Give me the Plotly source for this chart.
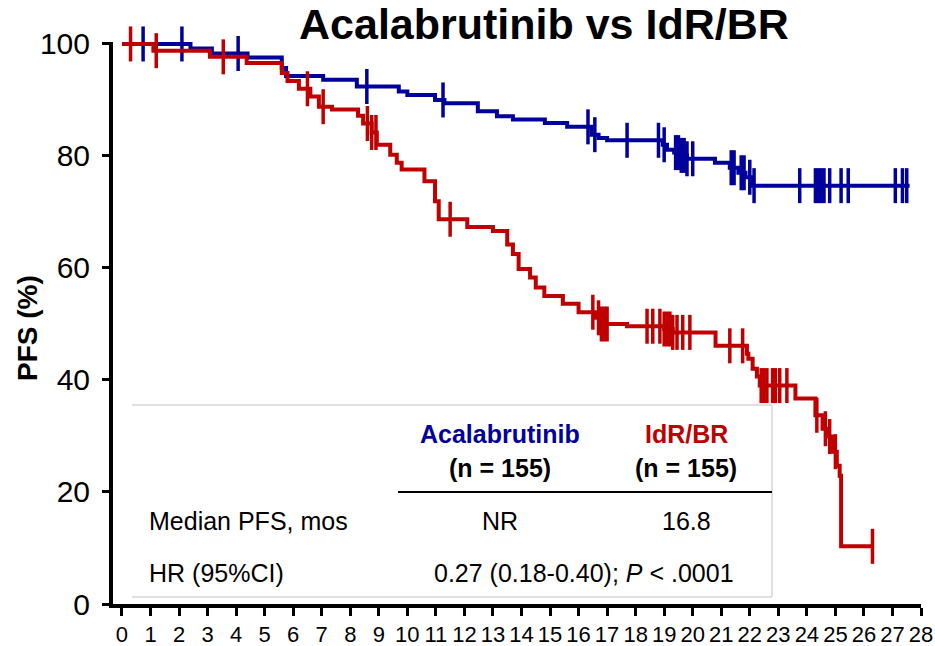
import numpy as np
import plotly.graph_objects as go

# ---------------- data ----------------
x_ticks = list(range(0, 29))
y_ticks = [0, 20, 40, 60, 80, 100]

acala_t = [0, 2.4, 3.15, 4.4, 5.6, 5.75, 7.05, 8.23, 9.7, 10.0, 10.97, 11.3, 12.47, 13.14, 13.7,
           14.82, 15.6, 16.45, 16.7, 17.0, 18.95, 19.1, 19.35, 19.6, 19.8, 20.78, 21.3, 21.6, 21.85,
           22.1, 27.6]
acala_s = [100, 99.2, 98.3, 97.6, 95.7, 94.3, 93.6, 92.4, 91.5, 90.9, 90.0, 89.4, 88.0, 87.1, 86.5,
           85.9, 85.2, 83.8, 83.2, 82.8, 82.0, 81.1, 80.6, 80.1, 79.5, 78.8, 77.9, 77.0, 76.2,
           74.7, 74.7]
acala_cens = [0.74, 2.1, 4.07, 8.58, 11.25, 16.33, 16.57, 17.7, 18.8, 19.0, 19.4, 19.5, 19.6, 19.7,
              19.8, 20.0, 21.35, 21.45, 21.7, 21.8, 22.0, 22.15, 23.75, 24.3, 24.4, 24.5, 24.6, 24.8,
              25.2, 25.45, 27.1, 27.35, 27.5]

idr_t = [0, 1.1, 3.08, 4.37, 5.6, 5.8, 6.2, 6.6, 6.9, 7.36, 8.27, 8.45, 8.75, 8.93, 9.4, 9.63, 9.8,
         10.6, 10.97, 11.1, 12.1, 13.0, 13.5, 13.7, 13.9, 14.3, 14.5, 14.8, 15.45, 16.0, 16.6, 16.8,
         17.7, 19.0, 19.3, 20.8, 21.9, 21.95, 22.1, 22.25, 22.35, 23.6, 24.3, 24.55, 24.75, 24.9,
         25.05, 25.15, 25.2, 26.3]
idr_s = [100, 98.8, 97.7, 96.6, 94.8, 93.4, 92.0, 90.6, 88.8, 88.3, 87.2, 85.8, 84.2, 82.0, 80.2,
         78.8, 77.6, 75.5, 71.9, 68.7, 67.3, 66.6, 64.2, 62.5, 59.8, 58.3, 56.5, 55.0, 53.6, 52.1,
         51.1, 50.0, 49.6, 49.1, 48.5, 46.1, 44.7, 43.8, 42.0, 40.6, 39.0, 36.7, 33.7, 31.3, 29.9,
         27.2, 24.7, 22.9, 10.3, 10.3]
idr_cens = [0.3, 1.2, 3.55, 6.5, 7.05, 8.6, 8.75, 8.9, 11.5, 16.5, 16.7, 16.8, 16.9, 17.0, 18.4,
            18.6, 18.85, 19.0, 19.1, 19.2, 19.3, 19.45, 19.65, 19.9, 21.3, 21.75, 22.4, 22.5, 22.6,
            22.8, 22.9, 23.05, 23.3, 24.35, 24.65, 24.8, 25.0, 26.3]

series_names = ["Acalabrutinib", "IdR/BR"]
n_labels = ["(n = 155)", "(n = 155)"]
median_pfs = ["NR", "16.8"]
hr_text = "0.27 (0.18-0.40); <i>P</i> < .0001"

BLUE = "#00009C"
RED = "#C00000"
FONT = "Liberation Sans, Arial, sans-serif"

# ---------------- layout geometry ----------------
W, H = 935, 646
L, R, T, B = 113, 14, 35, 42


def px(x):
    return (x - L) / (W - L - R)


def py(y):
    return (H - B - y) / (H - T - B)


def s_at(ts, ss, cens):
    idx = np.searchsorted(np.array(ts), np.array(cens), side="right") - 1
    return list(np.array(ss)[idx])


fig = go.Figure()
for ts, ss, cens, col, nm in [(acala_t, acala_s, acala_cens, BLUE, series_names[0]),
                              (idr_t, idr_s, idr_cens, RED, series_names[1])]:
    fig.add_trace(go.Scatter(x=ts, y=ss, mode="lines", name=nm,
                             line=dict(shape="hv", width=4, color=col), showlegend=False))
    fig.add_trace(go.Scatter(x=cens, y=s_at(ts, ss, cens), mode="markers", showlegend=False,
                             marker=dict(symbol="line-ns", size=25, color=col,
                                         line=dict(width=3.5, color=col)),
                             cliponaxis=False))

fig.update_xaxes(range=[-0.315, 28.0], tickvals=x_ticks, ticktext=[str(v) for v in x_ticks],
                 ticks="outside", ticklen=8, tickwidth=3, tickcolor="black",
                 showline=True, linewidth=4, linecolor="black",
                 showgrid=False, zeroline=False,
                 tickfont=dict(family=FONT, size=22, color="black"))
fig.update_yaxes(range=[0, 101.6], tickvals=y_ticks, ticktext=[str(v) for v in y_ticks],
                 ticks="outside", ticklen=10, tickwidth=3, tickcolor="black",
                 showline=False, showgrid=False, zeroline=False, ticklabelstandoff=6,
                 tickfont=dict(family=FONT, size=30, color="black"))

shapes = []
# y axis line (only up to 100)
shapes.append(dict(type="line", xref="paper", yref="paper", x0=px(111), x1=px(111),
                   y0=py(608), y1=py(42), line=dict(color="black", width=4)))
# table box
gray = "#D6D6D6"
shapes.append(dict(type="line", xref="paper", yref="paper", x0=px(132), x1=px(772),
                   y0=py(405), y1=py(405), line=dict(color=gray, width=1.5)))
shapes.append(dict(type="line", xref="paper", yref="paper", x0=px(132), x1=px(772),
                   y0=py(597), y1=py(597), line=dict(color=gray, width=1.5)))
shapes.append(dict(type="line", xref="paper", yref="paper", x0=px(772), x1=px(772),
                   y0=py(405), y1=py(597), line=dict(color=gray, width=1.5)))
shapes.append(dict(type="line", xref="paper", yref="paper", x0=px(398), x1=px(772),
                   y0=py(492), y1=py(492), line=dict(color="black", width=2)))

ann = []


def add_text(text, x, y, size, color="black", anchor="center", angle=0):
    ann.append(dict(text=text, xref="paper", yref="paper", x=px(x), y=py(y),
                    xanchor=anchor, yanchor="middle", showarrow=False, textangle=angle,
                    font=dict(family=FONT, size=size, color=color)))


add_text("<b>Acalabrutinib vs IdR/BR</b>", 544, 24, 43)
add_text("<b>PFS (%)</b>", 28, 328, 28, angle=-90)
add_text("<b>%s</b>" % series_names[0], 500, 434, 25, BLUE)
add_text("<b>%s</b>" % series_names[1], 686, 434, 25, RED)
add_text("<b>%s</b>" % n_labels[0], 500, 468, 25)
add_text("<b>%s</b>" % n_labels[1], 686, 468, 25)
add_text("Median PFS, mos", 147, 521, 25, anchor="left")
add_text(median_pfs[0], 500, 521, 25)
add_text(median_pfs[1], 686, 521, 25)
add_text("HR (95%CI)", 147, 573, 25, anchor="left")
add_text(hr_text, 584, 573, 25)

fig.update_layout(width=W, height=H, margin=dict(l=L, r=R, t=T, b=B, autoexpand=False),
                  paper_bgcolor="white", plot_bgcolor="white",
                  shapes=shapes, annotations=ann, showlegend=False,
                  font=dict(family=FONT))

fig.write_html("out.html")
